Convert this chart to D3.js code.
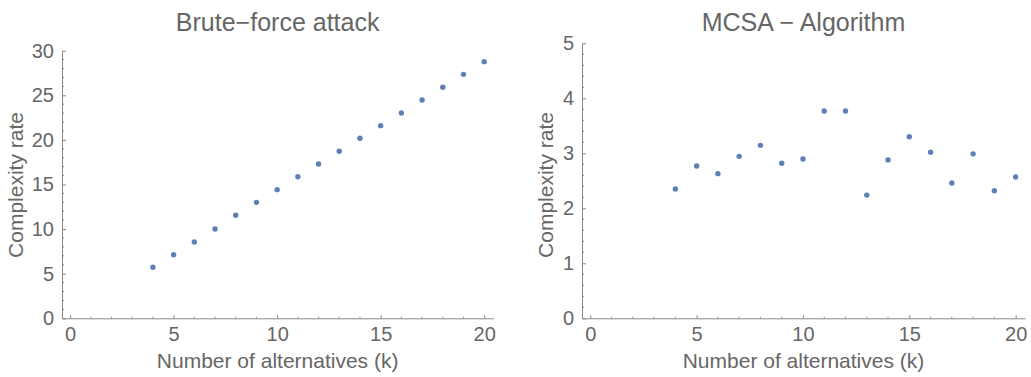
<!DOCTYPE html>
<meta charset="utf-8">
<style>

body {
  margin: 0;
  background: #fff;
}

svg {
  font-family: "Liberation Sans", Arial, sans-serif;
}

.axis path,
.axis line {
  fill: none;
  stroke: #888;
  stroke-width: 1;
}

.axis text {
  fill: #666;
  font-size: 20px;
}

.title {
  fill: #666;
  font-size: 25px;
}

.label {
  fill: #666;
  font-size: 21px;
}

</style>
<body>
<script src="https://cdn.jsdelivr.net/npm/d3@7/dist/d3.min.js"></script>
<script>

var width = 1031,
    height = 377;

// number of alternatives k
var kValues = [4, 5, 6, 7, 8, 9, 10, 11, 12, 13, 14, 15, 16, 17, 18, 19, 20];

// complexity rate, brute-force attack
var bruteForce = [5.72, 7.13, 8.55, 10.01, 11.55, 13.0, 14.42, 15.87, 17.3, 18.72,
                  20.18, 21.6, 23.02, 24.47, 25.9, 27.35, 28.77];

// complexity rate, MCSA algorithm
var mcsa = [2.35, 2.77, 2.63, 2.945, 3.145, 2.82, 2.896, 3.77, 3.77, 2.24,
            2.88, 3.30, 3.02, 2.46, 2.99, 2.32, 2.57];

var xTicks = [0, 5, 10, 15, 20];
var bruteTicks = [0, 5, 10, 15, 20, 25, 30];
var mcsaTicks = [0, 1, 2, 3, 4, 5];

var svg = d3.select("body").append("svg")
    .attr("width", width)
    .attr("height", height);

function panel(opt) {
  var x = d3.scaleLinear().domain([-0.39, 20.44]).range([opt.left, opt.right]);
  var y = d3.scaleLinear().domain([0, opt.ymax]).range([318.3, opt.top]);
  var g = svg.append("g");

  // minor ticks
  var xMinor = d3.range(0, 21, 1).filter(function (d) { return d % 5 != 0; });
  var yMinor = d3.range(0, opt.ymax + 1e-9, opt.yminor).filter(function (d) {
    return opt.yticks.every(function (t) { return Math.abs(t - d) > 1e-6; });
  });

  var xAxis = g.append("g")
      .attr("class", "axis")
      .attr("transform", "translate(0," + y(0) + ")")
      .call(d3.axisBottom(x).tickValues(xTicks).tickFormat(d3.format("d"))
        .tickSize(-3).tickPadding(9).tickSizeOuter(0));
  xAxis.selectAll(".minor").data(xMinor).enter().append("line")
      .attr("class", "minor")
      .attr("x1", x).attr("x2", x)
      .attr("y1", 0).attr("y2", -1.5);

  var yAxis = g.append("g")
      .attr("class", "axis")
      .attr("transform", "translate(" + x(-0.39) + ",0)")
      .call(d3.axisLeft(y).tickValues(opt.yticks).tickFormat(d3.format("d"))
        .tickSize(-4).tickPadding(8).tickSizeOuter(0));
  yAxis.selectAll(".minor").data(yMinor).enter().append("line")
      .attr("class", "minor")
      .attr("y1", y).attr("y2", y)
      .attr("x1", 0).attr("x2", 2);

  g.selectAll("circle")
      .data(opt.values)
    .enter().append("circle")
      .attr("cx", function (d, i) { return x(kValues[i]); })
      .attr("cy", function (d) { return y(d); })
      .attr("r", 2.7)
      .attr("fill", "#5E81B5");

  var cx = (x(-0.39) + x(20.44)) / 2;
  g.append("text")
      .attr("class", "title")
      .attr("x", cx)
      .attr("y", 31)
      .attr("text-anchor", "middle")
      .text(opt.title);

  g.append("text")
      .attr("class", "label")
      .attr("x", cx)
      .attr("y", 368)
      .attr("text-anchor", "middle")
      .text("Number of alternatives (k)");

  g.append("text")
      .attr("class", "label")
      .attr("transform", "translate(" + opt.ylabelX + ",185) rotate(-90)")
      .attr("text-anchor", "middle")
      .text("Complexity rate");
}

panel({ left: 62, right: 493.3, top: 50.7, ymax: 30, yticks: bruteTicks, yminor: 1,
        values: bruteForce, title: "Brute\u2212force attack", ylabelX: 23 });
panel({ left: 582, right: 1025, top: 43.3, ymax: 5, yticks: mcsaTicks, yminor: 0.2,
        values: mcsa, title: "MCSA \u2212 Algorithm", ylabelX: 553 });

</script>
